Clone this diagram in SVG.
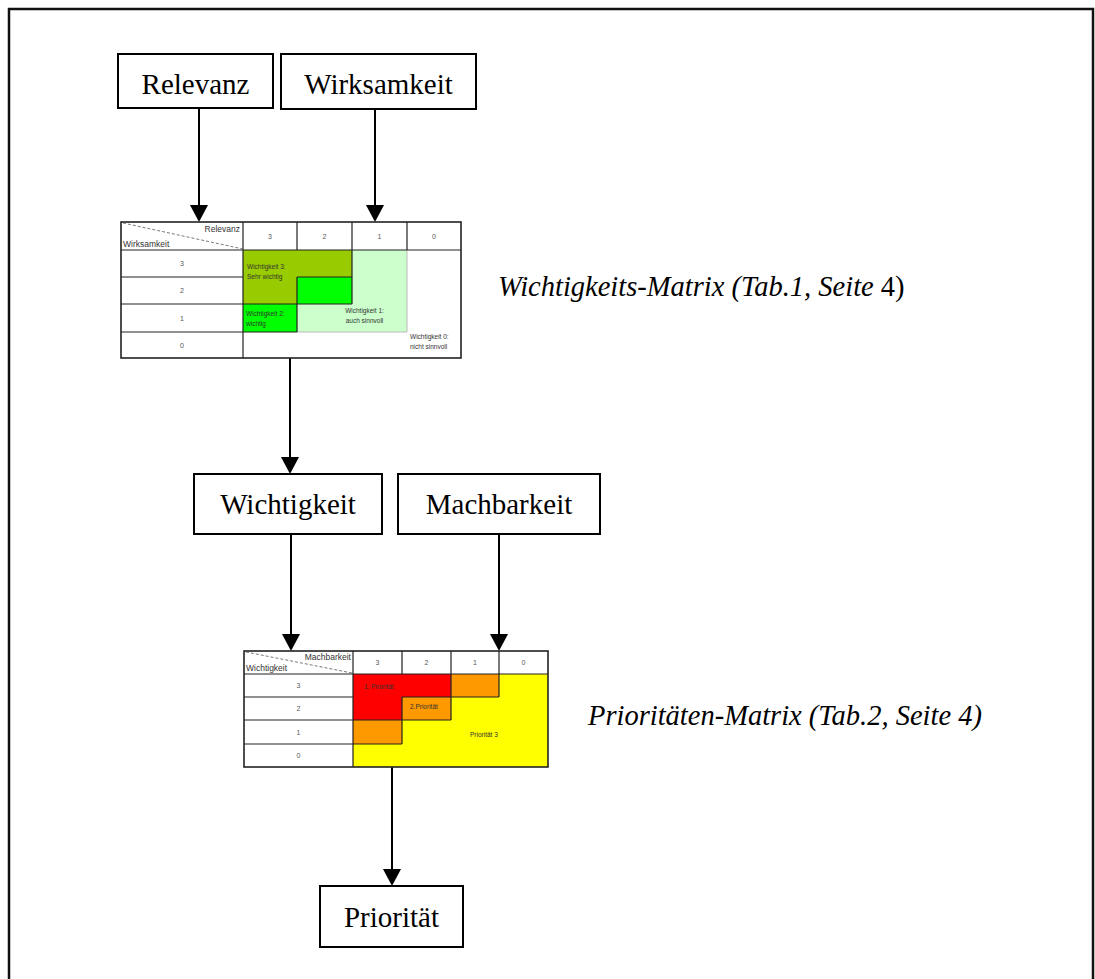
<svg xmlns="http://www.w3.org/2000/svg" width="1095" height="979" viewBox="0 0 1095 979">
<style>
.frame{fill:#fff;stroke:#111;stroke-width:2.5}
.box{fill:#fff;stroke:#000;stroke-width:2}
.lbl{font-family:"Liberation Serif","Times New Roman",serif;font-size:29px;fill:#000;text-anchor:middle}
.cap{font-family:"Liberation Serif","Times New Roman",serif;font-size:28.5px;font-style:italic;fill:#000}
.conn{stroke:#000;stroke-width:2;fill:none;marker-end:url(#ah)}
.grid{stroke:#222;stroke-width:1.2;fill:none}
.outer{stroke:#222;stroke-width:1.6;fill:none}
.lg{stroke:#bbb;stroke-width:1;fill:none}
.diag{stroke:#555;stroke-width:0.8;stroke-dasharray:3,2;fill:none}
.sm{font-family:"Liberation Sans",Arial,sans-serif;font-size:6.5px;fill:#333}
.hd{font-family:"Liberation Sans",Arial,sans-serif;font-size:8.5px;fill:#333}
.num{font-family:"Liberation Sans",Arial,sans-serif;font-size:7px;fill:#555;text-anchor:middle}
</style>
<defs>
<marker id="ah" markerUnits="userSpaceOnUse" markerWidth="17" markerHeight="18" viewBox="0 0 17 18" refX="15" refY="9" orient="auto">
<path d="M0,0 L17,9 L0,18 Z" fill="#000"/>
</marker>
</defs>

<rect class="frame" x="9" y="9" width="1084" height="990"/>

<g id="connectors">
<line class="conn" x1="199" y1="108" x2="199" y2="220"/>
<line class="conn" x1="375" y1="109" x2="375" y2="220"/>
<line class="conn" x1="290" y1="356" x2="290" y2="472"/>
<line class="conn" x1="291" y1="534" x2="291" y2="649"/>
<line class="conn" x1="499" y1="534" x2="499" y2="649"/>
<line class="conn" x1="392" y1="765" x2="392" y2="884"/>
</g>

<g id="relevanz">
<rect class="box" x="118" y="54" width="155" height="54"/>
<text class="lbl" x="195.5" y="94">Relevanz</text>
</g>
<g id="wirksamkeit">
<rect class="box" x="281" y="54" width="195" height="55"/>
<text class="lbl" x="378.5" y="94">Wirksamkeit</text>
</g>

<g id="wichtigkeits-matrix">
<rect x="121" y="222" width="340" height="136" fill="#fff"/>
<path d="M243,250 H352 V277 H297 V304 H243 Z" fill="#99cc00"/>
<rect x="297" y="277" width="55" height="27" fill="#00ff00"/>
<rect x="243" y="304" width="54" height="28" fill="#00ff00"/>
<path d="M352,250 H407 V332 H297 V304 H352 Z" fill="#ccffcc"/>
<path class="lg" d="M407,250 V332 H297"/>
<path class="grid" d="M121,250 H461 M243,222 V358 M297,222 V250 M352,222 V250 M407,222 V250 M121,277 H243 M121,304 H243 M121,332 H297 M352,250 V304 M297,277 H352 M297,277 V332 M243,304 H352"/>
<rect class="outer" x="121" y="222" width="340" height="136"/>
<line class="diag" x1="123" y1="223" x2="243" y2="249"/>
<text class="hd" x="240" y="232" text-anchor="end">Relevanz</text>
<text class="hd" x="123" y="247">Wirksamkeit</text>
<text class="num" x="270" y="239">3</text>
<text class="num" x="324.5" y="239">2</text>
<text class="num" x="379.5" y="239">1</text>
<text class="num" x="434" y="239">0</text>
<text class="num" x="182" y="266">3</text>
<text class="num" x="182" y="293">2</text>
<text class="num" x="182" y="320.5">1</text>
<text class="num" x="182" y="347.5">0</text>
<text class="sm" x="247" y="269">Wichtigkeit 3:</text>
<text class="sm" x="247" y="279">Sehr wichtig</text>
<text class="sm" x="246" y="316">Wichtigkeit 2:</text>
<text class="sm" x="246" y="326">wichtig</text>
<text class="sm" x="364.5" y="313" text-anchor="middle">Wichtigkeit 1:</text>
<text class="sm" x="364.5" y="323" text-anchor="middle">auch sinnvoll</text>
<text class="sm" x="410" y="339">Wichtigkeit 0:</text>
<text class="sm" x="410" y="349">nicht sinnvoll</text>
</g>
<g id="caption1">
<text class="cap" x="498" y="296">Wichtigkeits-Matrix (Tab.1, Seite <tspan font-style="normal">4)</tspan></text>
</g>

<g id="wichtigkeit">
<rect class="box" x="194" y="474" width="188" height="60"/>
<text class="lbl" x="288" y="514">Wichtigkeit</text>
</g>
<g id="machbarkeit">
<rect class="box" x="398" y="474" width="202" height="60"/>
<text class="lbl" x="499" y="514">Machbarkeit</text>
</g>

<g id="prioritaeten-matrix">
<rect x="244" y="651" width="304" height="116" fill="#fff"/>
<rect x="353" y="674" width="195" height="93" fill="#ffff00"/>
<path d="M353,674 H451 V697 H402 V720 H353 Z" fill="#ff0000"/>
<rect x="451" y="674" width="48" height="23" fill="#ff9900"/>
<rect x="402" y="697" width="49" height="23" fill="#ff9900"/>
<rect x="353" y="720" width="49" height="24" fill="#ff9900"/>
<path class="grid" d="M244,674 H548 M353,651 V767 M402,651 V674 M451,651 V674 M499,651 V697 M244,697 H353 M244,720 H353 M244,744 H353 M451,674 V720 M402,697 H499 M402,697 V744 M353,720 H451 M353,744 H402"/>
<rect class="outer" x="244" y="651" width="304" height="116"/>
<line class="diag" x1="246" y1="652" x2="352" y2="673"/>
<text class="hd" x="351" y="660" text-anchor="end">Machbarkeit</text>
<text class="hd" x="246" y="671">Wichtigkeit</text>
<text class="num" x="377.5" y="665">3</text>
<text class="num" x="426.5" y="665">2</text>
<text class="num" x="475" y="665">1</text>
<text class="num" x="523.5" y="665">0</text>
<text class="num" x="298.5" y="688">3</text>
<text class="num" x="298.5" y="711">2</text>
<text class="num" x="298.5" y="734.5">1</text>
<text class="num" x="298.5" y="758">0</text>
<text class="sm" x="364" y="689" fill="#200">1. Priorität</text>
<text class="sm" x="410" y="709">2.Priorität</text>
<text class="sm" x="470" y="737">Priorität 3</text>
</g>
<g id="caption2">
<text class="cap" x="588" y="725">Prioritäten-Matrix (Tab.2, Seite 4)</text>
</g>

<g id="prioritaet">
<rect class="box" x="320" y="886" width="143" height="61"/>
<text class="lbl" x="391.5" y="927">Priorität</text>
</g>
</svg>
